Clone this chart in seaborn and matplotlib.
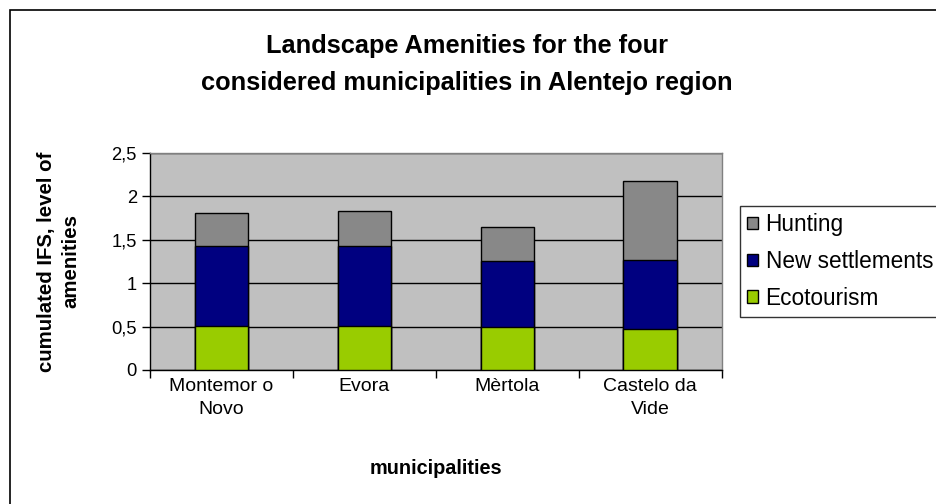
import matplotlib
matplotlib.use("Agg")
import matplotlib.pyplot as plt
import matplotlib.patches as mpatches
from matplotlib.ticker import FixedLocator, FuncFormatter
import seaborn as sns
import pandas as pd

municipalities = ["Montemor o\nNovo", "Evora", "Mèrtola", "Castelo da\nVide"]
ecotourism = [0.51, 0.51, 0.49, 0.47]
new_settlements = [0.92, 0.92, 0.76, 0.80]
hunting = [0.38, 0.40, 0.40, 0.90]
series_names = ["Ecotourism", "New settlements", "Hunting"]
series_colors = ["#99CC00", "#000080", "#888888"]
y_ticks = [0, 0.5, 1, 1.5, 2, 2.5]

sns.set_theme(style="white")
plt.rcParams['font.family'] = ['Liberation Sans', 'DejaVu Sans']
plt.rcParams['text.color'] = 'black'
plt.rcParams['axes.labelcolor'] = 'black'

fig = plt.figure(figsize=(9.37, 5.04), dpi=100)
ax = fig.add_axes([150/937, 1-370/504, (721.7-150)/937, (370-152.7)/504])
ax.set_facecolor("#C0C0C0")

df = pd.DataFrame({"municipality": municipalities,
                   "Ecotourism": ecotourism,
                   "New settlements": new_settlements,
                   "Hunting": hunting})
cum = df[series_names].cumsum(axis=1)

# draw cumulative totals from top to bottom so lower segments overlay
for name, color in reversed(list(zip(series_names, series_colors))):
    part = pd.DataFrame({"municipality": municipalities, "value": cum[name]})
    sns.barplot(x="municipality", y="value", data=part,
                color=color, width=0.375, edgecolor="black", linewidth=1.0,
                ax=ax, zorder=3, saturation=1)

ax.set_xlim(-0.5, 3.5)
ax.set_ylim(0, 2.5)
ax.set_yticks(y_ticks)
ax.yaxis.set_major_formatter(FuncFormatter(lambda v, p: ("%g" % v).replace(".", ",")))
ax.grid(axis="y", color="black", linewidth=1.0, zorder=1)
ax.set_axisbelow(True)
for s in ["top", "right"]:
    ax.spines[s].set_color("#808080")
    ax.spines[s].set_linewidth(1.0)
for s in ["left", "bottom"]:
    ax.spines[s].set_color("black")
    ax.spines[s].set_linewidth(1.0)

ax.set_xticks(range(4))
ax.set_xticklabels(municipalities, fontsize=14, color="black", linespacing=1.45)
ax.tick_params(axis="x", which="major", length=0, pad=6)
ax.xaxis.set_minor_locator(FixedLocator([-0.5, 0.5, 1.5, 2.5, 3.5]))
ax.tick_params(axis="x", which="minor", length=6, width=1, color="black",
               direction="out", bottom=True)
ax.tick_params(axis="y", length=6, width=1, color="black", direction="out",
               left=True, labelsize=13.2, pad=3.5, labelcolor="black")

ax.set_xlabel("municipalities", fontsize=14.3, fontweight="bold", color="black")
ax.xaxis.set_label_coords(0.5, -0.41)
ax.set_ylabel("cumulated IFS, level of\namenities", fontsize=14.7, fontweight="bold",
              color="black", linespacing=1.3)
ax.yaxis.set_label_coords(-0.1225, 0.5)

fig.suptitle("Landscape Amenities for the four\nconsidered municipalities in Alentejo region",
             x=467/937, y=1-34/504, fontsize=18.3, fontweight="bold", va="top",
             linespacing=1.68, color="black")

handles = [mpatches.Patch(facecolor=c, edgecolor="black", linewidth=1.0, label=n)
           for n, c in zip(series_names, series_colors)][::-1]
leg = fig.legend(handles=handles, loc="upper left", bbox_to_anchor=(740/937, 1-206/504),
                 frameon=True, fancybox=False, edgecolor="black", facecolor="white",
                 fontsize=16.3, handlelength=0.45, handleheight=0.45, handletextpad=0.35,
                 borderpad=0.33, labelspacing=0.6, borderaxespad=0)
leg.get_frame().set_linewidth(1.0)
for t in leg.get_texts():
    t.set_color("black")

# outer chart frame (left and top edges visible)
fig.patches.append(mpatches.Rectangle((10/937, -0.1), 1.2, 1 - 10/504 + 0.1,
                                      transform=fig.transFigure, fill=False,
                                      edgecolor="black", linewidth=1.2, zorder=0))

fig.savefig("out.png", dpi=100, facecolor="white")
